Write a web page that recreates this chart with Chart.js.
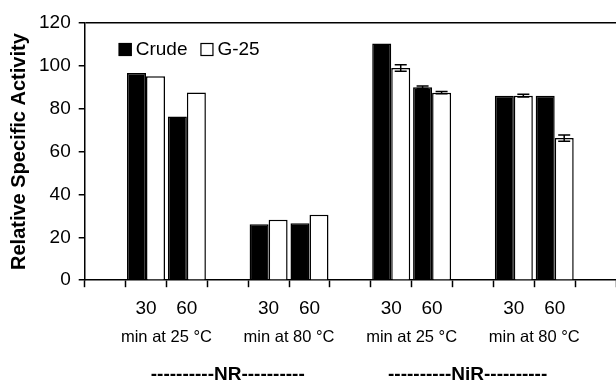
<!DOCTYPE html>
<html>
<head>
<meta charset="utf-8">
<script src="https://cdn.jsdelivr.net/npm/chart.js@4"></script>
<style>
  html, body { margin: 0; padding: 0; background: #fff; }
  #wrap { width: 616px; height: 381px; }
</style>
</head>
<body>
<div id="wrap"><canvas id="activityChart"></canvas></div>
<script>
const FONT = "'Liberation Sans', Arial, sans-serif";

// categories: empty slots separate the groups
const timeLabels = ['', '30', '60', '', '30', '60', '', '30', '60', '', '30', '60', ''];
const crudeValues = [null, 96.7, 76.4, null, 26.1, 26.6, null, 110.4, 90.0, null, 86.1, 86.1, null];
const g25Values = [null, 95.1, 87.6, null, 28.2, 30.5, null, 99.0, 87.5, null, 86.1, 66.3, null];
const crudeErrors = [0, 0, 0, 0, 0, 0, 0, 0, 0.6, 0, 0, 0, 0];
const g25Errors = [0, 0, 0, 0, 0, 0, 0, 1.5, 0.5, 0, 0.6, 1.5, 0];

const conditionLabels = ['min at 25 °C', 'min at 80 °C', 'min at 25 °C', 'min at 80 °C'];
const conditionStart = [1, 4, 7, 10];
const enzymeLabels = ['----------NR----------', '----------NiR----------'];
const enzymeCenter = [3, 8.87];

const yTicks = [0, 20, 40, 60, 80, 100, 120];

const errorBarPlugin = {
    id: 'errorBars',
    afterDatasetsDraw(chart) {
        const ctx = chart.ctx;
        const y = chart.scales.y;
        const errs = [crudeErrors, g25Errors];
        ctx.save();
        ctx.strokeStyle = '#000';
        ctx.lineWidth = 1.5;
        chart.data.datasets.forEach((ds, di) => {
            const meta = chart.getDatasetMeta(di);
            meta.data.forEach((bar, i) => {
                const e = errs[di][i];
                const v = ds.data[i];
                if (!e || v == null) return;
                const top = y.getPixelForValue(v + e);
                const bot = y.getPixelForValue(v - e);
                ctx.beginPath();
                ctx.moveTo(bar.x, top);
                ctx.lineTo(bar.x, bot);
                ctx.moveTo(bar.x - 6, top);
                ctx.lineTo(bar.x + 6, top);
                ctx.moveTo(bar.x - 6, bot);
                ctx.lineTo(bar.x + 6, bot);
                ctx.stroke();
            });
        });
        ctx.restore();
    }
};

const labelsPlugin = {
    id: 'groupLabels',
    afterDraw(chart) {
        const ctx = chart.ctx;
        const x = chart.scales.x;
        const area = chart.chartArea;
        ctx.save();
        ctx.fillStyle = '#000';
        ctx.textAlign = 'center';
        ctx.textBaseline = 'middle';

        ctx.font = '16.5px ' + FONT;
        conditionLabels.forEach((t, i) => {
            ctx.fillText(t, x.getPixelForValue(conditionStart[i] + 0.5), area.bottom + 57);
        });

        ctx.font = 'bold 19px ' + FONT;
        enzymeLabels.forEach((t, i) => {
            ctx.fillText(t, x.getPixelForValue(enzymeCenter[i]), area.bottom + 95);
        });

        // legend
        ctx.textAlign = 'left';
        ctx.font = '19px ' + FONT;
        let lx = area.left + 34;
        const ly = area.top + 20;
        chart.data.datasets.forEach(ds => {
            ctx.fillStyle = ds.backgroundColor;
            ctx.fillRect(lx, ly, 13, 13);
            ctx.strokeStyle = '#000';
            ctx.lineWidth = 1.2;
            ctx.strokeRect(lx + 0.5, ly + 0.5, 12, 12);
            ctx.fillStyle = '#000';
            ctx.fillText(ds.label, lx + 17, ly + 7);
            lx += 17 + ctx.measureText(ds.label).width + 13;
        });
        ctx.restore();
    }
};

new Chart(document.getElementById('activityChart'), {
    type: 'bar',
    data: {
        labels: timeLabels,
        datasets: [
            {
                label: 'Crude',
                data: crudeValues,
                backgroundColor: '#000000',
                borderColor: '#000000',
                borderWidth: 1.5,
                barPercentage: 1.0,
                categoryPercentage: 0.93
            },
            {
                label: 'G-25',
                data: g25Values,
                backgroundColor: '#ffffff',
                borderColor: '#000000',
                borderWidth: 1.5,
                barPercentage: 1.0,
                categoryPercentage: 0.93
            }
        ]
    },
    options: {
        responsive: true,
        maintainAspectRatio: false,
        animation: false,
        layout: {
            padding: { left: 3, right: 0, top: 23, bottom: 51 }
        },
        scales: {
            x: {
                offset: true,
                grid: {
                    offset: true,
                    drawOnChartArea: false,
                    tickLength: 7,
                    tickColor: '#000',
                    tickWidth: 1.5
                },
                border: { color: '#000', width: 1.5 },
                ticks: {
                    color: '#000',
                    padding: 10,
                    maxRotation: 0,
                    autoSkip: false,
                    font: { family: FONT, size: 19 }
                }
            },
            y: {
                min: 0,
                max: 120,
                afterBuildTicks: scale => { scale.ticks = yTicks.map(v => ({ value: v })); },
                title: {
                    display: true,
                    text: 'Relative Specific Activity',
                    color: '#000',
                    padding: { top: 4, bottom: 0 },
                    font: { family: FONT, size: 20, weight: 'bold' }
                },
                grid: {
                    color: c => c.tick && c.tick.value === 120 ? '#000' : 'rgba(0,0,0,0)',
                    lineWidth: 1.5,
                    tickLength: 6,
                    tickColor: '#000',
                    tickWidth: 1.5
                },
                border: { color: '#000', width: 1.5 },
                ticks: {
                    color: '#000',
                    padding: 8,
                    font: { family: FONT, size: 19 }
                }
            }
        },
        plugins: {
            legend: { display: false },
            tooltip: { enabled: false }
        }
    },
    plugins: [errorBarPlugin, labelsPlugin]
});
</script>
</body>
</html>
